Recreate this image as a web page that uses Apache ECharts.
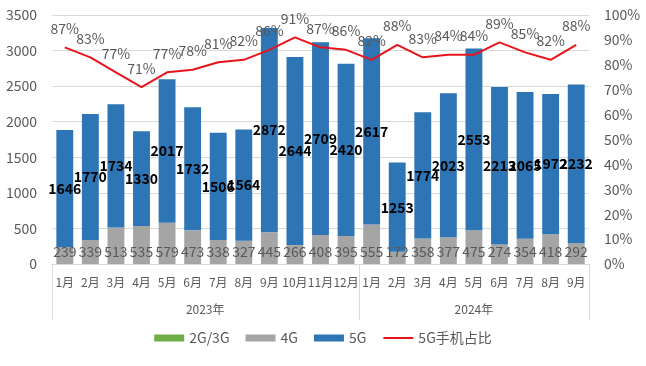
<!DOCTYPE html>
<html><head><meta charset="utf-8">
<script src="https://cdn.jsdelivr.net/npm/echarts@6/dist/echarts.min.js"></script>
<style>html,body{margin:0;padding:0;background:#fff}#c{width:646px;height:366px}</style>
</head><body><div id="c"></div>
<script>
const months = ['1月','2月','3月','4月','5月','6月','7月','8月','9月','10月','11月','12月','1月','2月','3月','4月','5月','6月','7月','8月','9月'];
const years = ['2023年','2024年'];
const v2g3g = [0,0,0,0,0,0,0,0,0,0,0,0,0,0,0,0,0,0,0,0,0];
const v4g = [239,339,513,535,579,473,338,327,445,266,408,395,555,172,358,377,475,274,354,418,292];
const v5g = [1646,1770,1734,1330,2017,1732,1506,1564,2872,2644,2709,2420,2617,1253,1774,2023,2553,2213,2065,1972,2232];
const share5g = [87,83,77,71,77,78,81,82,86,91,87,86,82,88,83,84,84,89,85,82,88];
const leftTicks = {min:0, max:3500, interval:500};
const rightTicks = {min:0, max:100, interval:10};

const FONT = '"Noto Sans CJK SC","Noto Sans",sans-serif';
const GRAY = '#595959';
const chart = echarts.init(document.getElementById('c'));
chart.setOption({
  animation:false,
  textStyle:{fontFamily:FONT},
  grid:{left:52,right:57,top:15,bottom:102,containLabel:false},
  legend:{
    bottom:16,left:'center',itemWidth:30,itemHeight:7,itemGap:16,
    textStyle:{color:GRAY,fontSize:14,fontFamily:FONT},
    data:[{name:'2G/3G',icon:'rect'},{name:'4G',icon:'rect'},{name:'5G',icon:'rect'},{name:'5G手机占比'}]
  },
  xAxis:[{
    type:'category',data:months,position:'bottom',
    axisLine:{lineStyle:{color:'#d9d9d9'}},
    axisTick:{show:false},
    axisLabel:{color:GRAY,fontSize:12,margin:12,interval:0}
  },{
    type:'category',data:months,position:'bottom',
    axisLine:{show:false},
    axisTick:{show:true,length:56,lineStyle:{color:'#d9d9d9'},interval:(i)=>i===0||i===12},
    axisLabel:{
      interval:0,margin:39,color:GRAY,fontSize:12,
      formatter:(v,i)=> i===6 ? '{a|'+years[0]+'}' : (i===16 ? years[1] : ''),
      rich:{a:{color:GRAY,fontSize:12,padding:[0,26,0,0]}}
    }
  }],
  yAxis:[{
    type:'value',min:leftTicks.min,max:leftTicks.max,interval:leftTicks.interval,
    axisLine:{show:false},axisTick:{show:false},
    axisLabel:{color:GRAY,fontSize:14,margin:15,formatter:(v)=>String(v)},
    splitLine:{lineStyle:{color:'#d9d9d9'}}
  },{
    type:'value',min:rightTicks.min,max:rightTicks.max,interval:rightTicks.interval,position:'right',
    axisLine:{show:false},axisTick:{show:false},
    axisLabel:{color:GRAY,fontSize:14,margin:15,formatter:'{value}%'},
    splitLine:{show:false}
  }],
  series:[{
    name:'2G/3G',type:'bar',stack:'s',barWidth:'66%',data:v2g3g,
    itemStyle:{color:'#70AD47'}
  },{
    name:'4G',type:'bar',stack:'s',data:v4g,
    itemStyle:{color:'#A5A5A5'},
    label:{show:true,position:'insideBottom',color:GRAY,fontSize:14}
  },{
    name:'5G',type:'bar',stack:'s',data:v5g,
    itemStyle:{color:'#2E75B6'},
    label:{show:true,position:'inside',color:'#000',fontSize:14,fontWeight:'bold'}
  },{
    name:'5G手机占比',type:'line',xAxisIndex:1,yAxisIndex:1,data:share5g,
    symbol:'circle',symbolSize:2,showSymbol:true,
    lineStyle:{color:'#E8141C',width:2},itemStyle:{color:'rgba(0,0,0,0)'},
    label:{show:true,position:'top',distance:11,color:GRAY,fontSize:14,formatter:'{c}%'}
  }]
});
</script></body></html>
